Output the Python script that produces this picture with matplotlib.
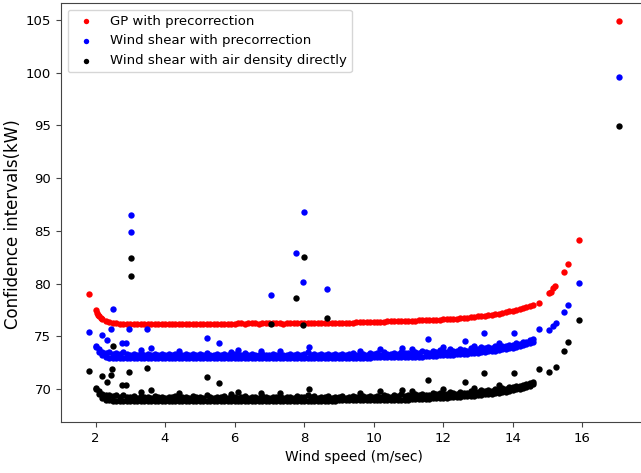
import matplotlib
matplotlib.use("Agg")
import matplotlib.pyplot as plt

# wind speed bins used for the dense bands (m/sec)
speed = [2.0, 2.1, 2.2, 2.3, 2.4, 2.5, 2.6, 2.7, 2.8, 2.9,
         3.0, 3.1, 3.2, 3.3, 3.4, 3.5, 3.6, 3.7, 3.8, 3.9,
         4.0, 4.1, 4.2, 4.3, 4.4, 4.5, 4.6, 4.7, 4.8, 4.9,
         5.0, 5.1, 5.2, 5.3, 5.4, 5.5, 5.6, 5.7, 5.8, 5.9,
         6.0, 6.1, 6.2, 6.3, 6.4, 6.5, 6.6, 6.7, 6.8, 6.9,
         7.0, 7.1, 7.2, 7.3, 7.4, 7.5, 7.6, 7.7, 7.8, 7.9,
         8.0, 8.1, 8.2, 8.3, 8.4, 8.5, 8.6, 8.7, 8.8, 8.9,
         9.0, 9.1, 9.2, 9.3, 9.4, 9.5, 9.6, 9.7, 9.8, 9.9,
         10.0, 10.1, 10.2, 10.3, 10.4, 10.5, 10.6, 10.7, 10.8, 10.9,
         11.0, 11.1, 11.2, 11.3, 11.4, 11.5, 11.6, 11.7, 11.8, 11.9,
         12.0, 12.1, 12.2, 12.3, 12.4, 12.5, 12.6, 12.7, 12.8, 12.9,
         13.0, 13.1, 13.2, 13.3, 13.4, 13.5, 13.6, 13.7, 13.8, 13.9,
         14.0, 14.1, 14.2, 14.3, 14.4, 14.5, 14.6]

# GP with precorrection
gp_pre = [77.45, 76.90, 76.60, 76.42, 76.32, 76.26, 76.23, 76.21, 76.20, 76.20,
          76.20, 76.19, 76.20, 76.21, 76.20, 76.19, 76.20, 76.20, 76.21, 76.20,
          76.20, 76.19, 76.20, 76.20, 76.21, 76.20, 76.19, 76.20, 76.20, 76.21,
          76.20, 76.20, 76.19, 76.20, 76.21, 76.20, 76.20, 76.19, 76.20, 76.21,
          76.21, 76.22, 76.22, 76.21, 76.22, 76.23, 76.22, 76.21, 76.22, 76.22,
          76.22, 76.23, 76.22, 76.22, 76.21, 76.22, 76.23, 76.22, 76.22, 76.23,
          76.23, 76.24, 76.23, 76.24, 76.24, 76.25, 76.24, 76.24, 76.25, 76.25,
          76.26, 76.27, 76.28, 76.29, 76.30, 76.31, 76.32, 76.33, 76.35, 76.36,
          76.37, 76.38, 76.39, 76.40, 76.41, 76.42, 76.43, 76.44, 76.45, 76.46,
          76.47, 76.48, 76.49, 76.50, 76.51, 76.52, 76.54, 76.55, 76.56, 76.58,
          76.60, 76.62, 76.64, 76.66, 76.68, 76.71, 76.74, 76.77, 76.80, 76.84,
          76.88, 76.92, 76.96, 77.00, 77.05, 77.10, 77.16, 77.22, 77.29, 77.36,
          77.44, 77.52, 77.60, 77.69, 77.78, 77.88, 77.98]
gp_extra_x = [1.81, 2.03, 2.06, 2.15, 14.76, 15.05, 15.10, 15.17, 15.22, 15.48, 15.60, 15.91, 17.06]
gp_extra_y = [79.05, 77.20, 77.05, 76.75, 78.20, 79.10, 79.20, 79.60, 79.80, 81.10, 81.90, 84.10, 104.90]

# Wind shear with precorrection: lower and upper edge of the band
shear_pre_low = [74.10, 73.50, 73.20, 73.05, 72.98, 72.95, 72.95, 72.94, 72.95, 72.95,
                 72.95, 72.94, 72.95, 72.96, 72.95, 72.94, 72.95, 72.95, 72.96, 72.95,
                 72.95, 72.94, 72.95, 72.95, 72.96, 72.95, 72.94, 72.95, 72.95, 72.96,
                 72.95, 72.95, 72.94, 72.95, 72.96, 72.95, 72.95, 72.94, 72.95, 72.96,
                 72.95, 72.94, 72.95, 72.96, 72.95, 72.94, 72.95, 72.95, 72.96, 72.95,
                 72.95, 72.94, 72.95, 72.95, 72.96, 72.95, 72.94, 72.95, 72.95, 72.96,
                 72.95, 72.95, 72.94, 72.95, 72.96, 72.95, 72.95, 72.94, 72.95, 72.96,
                 72.97, 72.96, 72.97, 72.98, 72.97, 72.96, 72.97, 72.97, 72.98, 72.97,
                 73.00, 72.99, 73.00, 73.01, 73.00, 72.99, 73.00, 73.00, 73.01, 73.00,
                 73.05, 73.04, 73.05, 73.06, 73.05, 73.10, 73.12, 73.14, 73.16, 73.18,
                 73.20, 73.22, 73.24, 73.26, 73.28, 73.30, 73.33, 73.36, 73.39, 73.42,
                 73.45, 73.49, 73.53, 73.57, 73.61, 73.65, 73.70, 73.75, 73.80, 73.86,
                 73.92, 74.00, 74.08, 74.17, 74.27, 74.37, 74.47]
shear_pre_high = [74.00, 73.80, 73.55, 73.45, 73.50, 73.35, 73.45, 73.30, 73.50, 73.30,
                  73.25, 73.35, 73.20, 73.40, 73.25, 73.30, 73.20, 73.35, 73.25, 73.30,
                  73.20, 73.30, 73.25, 73.35, 73.20, 73.25, 73.30, 73.20, 73.35, 73.25,
                  73.30, 73.20, 73.45, 73.25, 73.20, 73.30, 73.25, 73.35, 73.20, 73.25,
                  73.30, 73.20, 73.25, 73.40, 73.20, 73.30, 73.25, 73.20, 73.35, 73.25,
                  73.20, 73.30, 73.25, 73.35, 73.20, 73.25, 73.30, 73.20, 73.35, 73.25,
                  73.30, 73.50, 73.25, 73.35, 73.20, 73.30, 73.25, 73.35, 73.20, 73.30,
                  73.25, 73.35, 73.20, 73.30, 73.40, 73.25, 73.30, 73.35, 73.25, 73.40,
                  73.30, 73.40, 73.25, 73.50, 73.35, 73.30, 73.45, 73.35, 73.55, 73.40,
                  73.45, 73.35, 73.55, 73.45, 73.60, 73.50, 73.45, 73.65, 73.55, 73.70,
                  73.60, 73.55, 73.75, 73.65, 73.60, 73.80, 73.70, 73.65, 73.85, 73.75,
                  73.80, 73.95, 73.85, 74.00, 73.90, 74.05, 74.00, 74.10, 74.05, 74.20,
                  74.20, 74.35, 74.30, 74.45, 74.50, 74.65, 74.70]

# Wind shear with air density directly: lower and upper edge of the band
shear_air_low = [70.10, 69.50, 69.15, 69.00, 68.92, 68.86, 68.85, 68.84, 68.85, 68.85,
                 68.85, 68.84, 68.85, 68.86, 68.85, 68.84, 68.85, 68.85, 68.86, 68.85,
                 68.85, 68.84, 68.85, 68.85, 68.86, 68.85, 68.84, 68.85, 68.85, 68.86,
                 68.85, 68.85, 68.84, 68.85, 68.86, 68.85, 68.85, 68.84, 68.85, 68.86,
                 68.90, 68.89, 68.90, 68.91, 68.90, 68.89, 68.90, 68.90, 68.91, 68.90,
                 68.90, 68.89, 68.90, 68.90, 68.91, 68.90, 68.89, 68.90, 68.90, 68.91,
                 68.90, 68.90, 68.89, 68.90, 68.91, 68.90, 68.90, 68.89, 68.90, 68.91,
                 68.95, 68.94, 68.95, 68.96, 68.95, 68.94, 68.95, 68.95, 68.96, 68.95,
                 68.95, 68.94, 68.95, 68.96, 68.95, 68.94, 68.95, 68.95, 68.96, 68.95,
                 69.00, 69.01, 69.02, 69.03, 69.04, 69.06, 69.08, 69.10, 69.12, 69.14,
                 69.16, 69.18, 69.20, 69.22, 69.24, 69.26, 69.29, 69.32, 69.35, 69.38,
                 69.41, 69.45, 69.49, 69.53, 69.57, 69.61, 69.66, 69.71, 69.76, 69.82,
                 69.88, 69.96, 70.04, 70.13, 70.23, 70.33, 70.43]
shear_air_high = [70.00, 69.80, 69.50, 69.40, 69.45, 69.30, 69.40, 69.25, 69.45, 69.25,
                  69.20, 69.30, 69.15, 69.35, 69.20, 69.25, 69.15, 69.30, 69.20, 69.25,
                  69.15, 69.25, 69.20, 69.30, 69.15, 69.20, 69.25, 69.15, 69.30, 69.20,
                  69.25, 69.15, 69.40, 69.20, 69.15, 69.25, 69.20, 69.30, 69.15, 69.20,
                  69.25, 69.15, 69.20, 69.35, 69.15, 69.25, 69.20, 69.15, 69.30, 69.20,
                  69.15, 69.25, 69.20, 69.30, 69.15, 69.20, 69.25, 69.15, 69.30, 69.20,
                  69.25, 69.45, 69.20, 69.30, 69.15, 69.25, 69.20, 69.30, 69.15, 69.25,
                  69.20, 69.30, 69.15, 69.25, 69.35, 69.20, 69.25, 69.30, 69.20, 69.35,
                  69.25, 69.35, 69.20, 69.45, 69.30, 69.25, 69.40, 69.30, 69.50, 69.35,
                  69.40, 69.30, 69.50, 69.40, 69.55, 69.45, 69.40, 69.60, 69.50, 69.65,
                  69.55, 69.50, 69.70, 69.60, 69.55, 69.75, 69.65, 69.60, 69.80, 69.70,
                  69.75, 69.90, 69.80, 69.95, 69.85, 70.00, 69.95, 70.05, 70.00, 70.15,
                  70.15, 70.30, 70.25, 70.40, 70.45, 70.60, 70.65]

# isolated points and small bumps
pre_extra_x = [1.81, 2.19, 2.33, 2.45, 2.50, 2.76, 2.88, 2.96, 3.02, 3.02, 3.48, 3.60,
               5.20, 5.55, 6.10, 6.76, 7.05, 7.77, 7.97, 8.00, 8.14, 8.66, 10.19, 10.82,
               11.57, 12.63, 13.18, 14.04, 14.76, 15.05, 15.17, 15.25, 15.48, 15.60, 15.90, 17.06,
               3.3, 4.4, 5.9, 7.3, 9.6, 11.1, 12.0, 12.9, 13.6]
pre_extra_y = [75.40, 75.10, 74.65, 75.70, 77.60, 74.40, 74.40, 75.70, 86.50, 84.90, 75.70, 73.90,
               74.80, 74.40, 73.70, 73.60, 78.90, 82.90, 80.15, 86.80, 74.00, 79.50, 73.80, 73.90,
               74.70, 74.55, 75.30, 75.30, 75.70, 75.60, 76.00, 76.30, 77.30, 77.95, 80.10, 99.60,
               73.70, 73.60, 73.55, 73.60, 73.60, 73.80, 74.00, 74.10, 74.35]
air_extra_x = [1.81, 2.19, 2.33, 2.45, 2.48, 2.50, 2.76, 2.88, 2.96, 3.02, 3.02, 3.48, 3.60,
               5.20, 5.55, 6.10, 6.76, 7.05, 7.77, 7.97, 8.00, 8.14, 8.66, 10.19, 10.82,
               11.57, 12.63, 13.18, 14.04, 14.76, 15.05, 15.25, 15.48, 15.60, 15.90, 17.06,
               3.3, 4.4, 5.9, 7.3, 9.6, 11.1, 12.0, 12.9, 13.6]
air_extra_y = [71.70, 71.20, 70.65, 71.30, 71.90, 74.10, 70.40, 70.40, 71.60, 82.40, 80.70, 72.00, 69.90,
               71.10, 70.60, 69.70, 69.60, 76.20, 78.60, 76.10, 82.50, 70.00, 76.70, 69.80, 69.90,
               70.85, 70.70, 71.50, 71.50, 71.90, 71.60, 72.10, 73.60, 74.50, 76.50, 94.95,
               69.70, 69.60, 69.55, 69.60, 69.60, 69.80, 70.00, 70.10, 70.35]

fig = plt.figure(figsize=(6.41, 4.73), dpi=100)
ax = fig.add_axes([0.0952, 0.1078, 0.9126, 0.8859])

ms = 21
ax.scatter(speed + gp_extra_x, gp_pre + gp_extra_y, s=ms, color="red", linewidths=0,
           label="GP with precorrection")
ax.scatter(speed + speed + pre_extra_x, shear_pre_low + shear_pre_high + pre_extra_y,
           s=ms, color="blue", linewidths=0, label="Wind shear with precorrection")
ax.scatter(speed + speed + air_extra_x, shear_air_low + shear_air_high + air_extra_y,
           s=ms, color="black", linewidths=0, label="Wind shear with air density directly")

ax.set_xlim(1.007, 17.84)
ax.set_ylim(66.87, 106.61)
ax.set_xticks([2, 4, 6, 8, 10, 12, 14, 16])
ax.set_yticks([70, 75, 80, 85, 90, 95, 100, 105])
ax.tick_params(labelsize=9.5, color="#444444")
for sp in ax.spines.values():
    sp.set_color("#444444")

ax.set_xlabel("Wind speed (m/sec)", fontsize=10)
ax.set_ylabel("Confidence intervals(kW)", fontsize=12)
ax.yaxis.set_label_coords(-0.066, 0.473)

ax.legend(loc="upper left", fontsize=9.5, markerscale=0.85)

fig.savefig("out.png", dpi=100)
